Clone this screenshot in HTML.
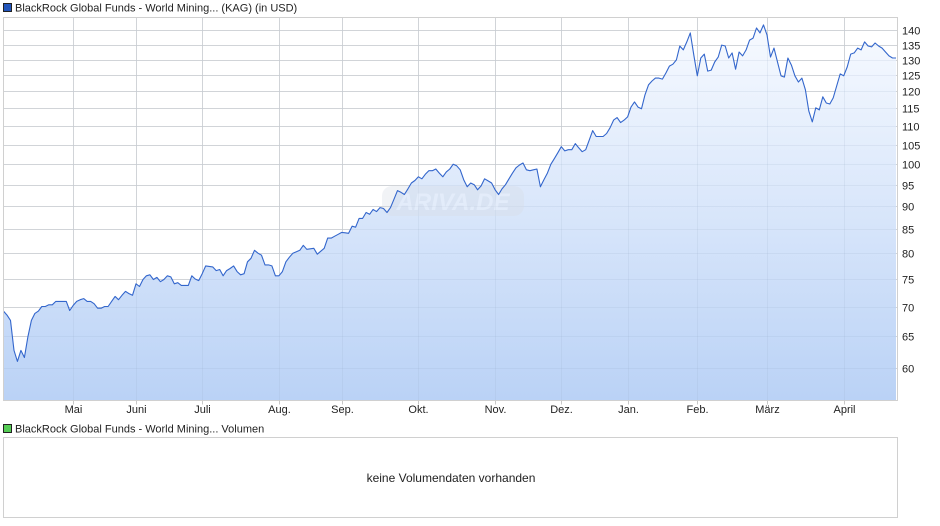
<!DOCTYPE html>
<html><head><meta charset="utf-8">
<style>
html,body{margin:0;padding:0;background:#fff;width:940px;height:526px;overflow:hidden;font-family:"Liberation Sans",Arial,sans-serif;}
svg{display:block}
text{font-family:"Liberation Sans",Arial,sans-serif;fill:#222;}
</style></head>
<body>
<svg id="chart" width="940" height="526">
<defs>
<linearGradient id="fillg" x1="0" y1="0" x2="0" y2="1">
<stop offset="0" stop-color="#f7faff"/>
<stop offset="1" stop-color="#bad2f6"/>
</linearGradient>
</defs>
<g>
<rect x="3.5" y="3.5" width="8" height="8" fill="#2255bb" stroke="#222" stroke-width="1"/>
<text x="15" y="11.5" font-size="11">BlackRock Global Funds - World Mining... (KAG) (in USD)</text>
</g>
<g id="grid"></g>
<path id="area" fill="url(#fillg)"/>
<g id="grid2"></g>
<g opacity="0.35">
<rect x="382" y="186" width="142" height="30" rx="10" fill="#d8dde6"/>
<text x="453" y="210" font-size="24" font-style="italic" font-weight="bold" text-anchor="middle" style="fill:#f4f6fa">ARIVA.DE</text>
</g>
<path id="line" fill="none" stroke="#3366cc" stroke-width="1.1" stroke-linejoin="round"/>
<rect x="3.5" y="17.5" width="894" height="383" fill="none" stroke="#d0d0d0"/>
<g id="yaxis"></g>
<g id="xaxis"></g>
<g>
<rect x="3.5" y="424.5" width="8" height="8" fill="#55cc55" stroke="#222" stroke-width="1"/>
<text x="15" y="432.5" font-size="11">BlackRock Global Funds - World Mining... Volumen</text>
</g>
<rect x="3.5" y="437.5" width="894" height="80" fill="#fff" stroke="#d0d0d0"/>
<text x="451" y="482" font-size="12" text-anchor="middle">keine Volumendaten vorhanden</text>
</svg>
<script>
const values = [69.2,68.5,67.6,62.7,61.0,62.7,61.6,64.9,67.6,68.8,69.2,70.0,70.0,70.3,70.3,70.9,70.9,70.9,70.9,69.3,
70.2,70.9,71.2,71.4,70.9,70.9,70.5,69.7,69.7,70.0,70.0,70.9,71.8,71.2,72.0,72.7,72.3,72.0,74.1,73.6,
74.9,75.6,75.8,74.9,75.3,74.5,74.9,75.6,75.4,74.1,74.3,73.8,73.8,73.8,75.6,75.0,74.7,76.0,77.5,77.4,
77.3,76.6,76.8,75.6,76.6,77.0,77.5,76.4,75.8,76.0,78.3,79.0,80.6,80.0,79.6,77.7,77.7,77.5,75.6,75.6,
76.4,78.3,79.2,80.0,80.3,80.6,81.6,80.8,80.9,81.0,79.8,80.4,81.0,83.1,83.1,83.5,83.9,84.3,84.2,84.1,
85.6,85.4,87.3,87.3,88.6,88.2,89.3,88.8,89.7,89.5,88.6,89.7,91.6,93.6,93.2,92.7,94.0,95.4,96.0,96.9,
96.4,97.5,98.4,98.4,98.8,97.8,96.9,98.1,98.8,100.0,99.6,98.6,96.2,94.5,95.4,95.0,93.8,94.7,96.4,95.9,
95.4,93.8,92.7,94.0,95.0,96.4,97.8,99.1,99.8,100.3,98.6,98.4,98.6,98.8,94.5,96.2,97.8,100.0,101.4,102.9,
104.5,103.4,103.7,103.7,105.3,104.2,103.2,103.7,106.2,108.8,107.2,107.2,107.2,108.0,109.6,111.7,112.4,111.0,111.7,112.6,
115.4,116.9,115.4,114.9,119.0,122.0,123.2,124.1,124.1,123.8,125.7,127.9,128.5,129.9,134.5,133.2,135.9,139.0,131.5,124.8,
130.5,131.8,126.3,126.6,129.2,130.8,134.8,134.5,130.5,132.2,126.9,132.5,131.2,133.2,136.5,137.2,140.7,139.0,141.8,138.3,
130.8,133.8,129.2,124.8,124.4,130.5,128.2,124.8,122.9,124.1,120.5,114.3,111.2,115.2,114.6,118.4,116.6,116.3,118.1,121.7,
125.4,124.8,127.6,131.8,132.2,133.8,133.2,135.9,134.5,134.2,135.5,134.5,133.8,132.5,131.2,130.5,130.5];
const monthLabels = ["Mai","Juni","Juli","Aug.","Sep.","Okt.","Nov.","Dez.","Jan.","Feb.","März","April"];
const monthSessions = [20,38,57,79,97,119,141,160,179,199,219,241];
const yTicks = [60,65,70,75,80,85,90,95,100,105,110,115,120,125,130,135,140];

const NS="http://www.w3.org/2000/svg";
const X0=3.5, X1=897.5, PT=17.5, PB=400.5;
const sMax = values.length-1;
const xs = s => X0 + (s/sMax)*(X1-X0-1.5);
const Y140=30, Y60=368;
const ys = v => Y140 + (Math.log(140/v)/Math.log(140/60))*(Y60-Y140);
function mk(tag,parent,attrs){const e=document.createElementNS(NS,tag);for(const k in attrs)e.setAttribute(k,attrs[k]);parent.appendChild(e);return e;}

const grid=document.getElementById('grid'), grid2=document.getElementById('grid2');
const yaxis=document.getElementById('yaxis'), xaxis=document.getElementById('xaxis');
yTicks.forEach(t=>{
  const y=Math.round(ys(t))+0.5;
  const l=mk('line',grid,{x1:X0,x2:X1,y1:y,y2:y,stroke:'#dcdcdc'});
  
  
  const l2=mk('line',grid2,{x1:X0,x2:X1,y1:y,y2:y,stroke:'rgba(150,165,195,0.15)'});
  
  
  const tx=mk('text',yaxis,{x:902,y:y+4,'font-size':11});
  tx.textContent=t;
  
  
});
monthSessions.forEach((s,i)=>{
  const x=Math.round(xs(s))+0.5;
  const l=mk('line',grid,{x1:x,x2:x,y1:PT,y2:PB,stroke:'#dcdcdc'});
  
  
  const l2=mk('line',grid2,{x1:x,x2:x,y1:PT,y2:PB,stroke:'rgba(150,165,195,0.15)'});
  
  
  const tk=mk('line',xaxis,{x1:x,x2:x,y1:PB,y2:PB+4,stroke:'#c8c8c8'});
  
  
  const tx=mk('text',xaxis,{x:x,y:413,'font-size':11,'text-anchor':'middle'});
  tx.textContent=monthLabels[i];
  
  
});
let d='';
values.forEach((v,i)=>{d+=(i?'L':'M')+xs(i).toFixed(1)+','+ys(v).toFixed(1);});
document.getElementById('line').setAttribute('d',d);
document.getElementById('area').setAttribute('d',d+'L'+xs(sMax).toFixed(1)+','+PB+'L'+xs(0).toFixed(1)+','+PB+'Z');
</script>
</body></html>
